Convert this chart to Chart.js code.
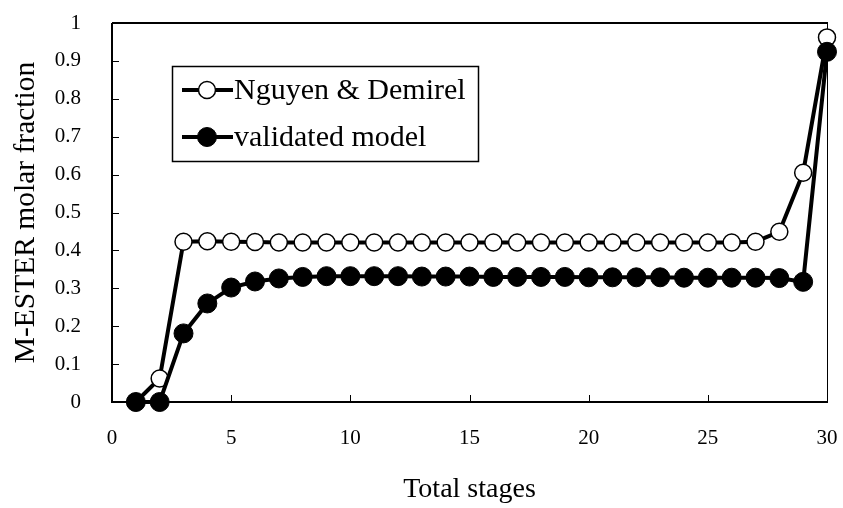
<!DOCTYPE html>
<html>
<head>
<meta charset="utf-8">
<script src="https://cdn.jsdelivr.net/npm/chart.js@4.4.1/dist/chart.umd.min.js"></script>
<style>
  body { margin: 0; background: #fff; }
  #wrap { width: 843px; height: 508px; }
</style>
</head>
<body>
<div id="wrap"><canvas id="canvas1" width="843" height="508"></canvas></div>
<script>
// stage numbers 1..30
var stages = [1, 2, 3, 4, 5, 6, 7, 8, 9, 10, 11, 12, 13, 14, 15,
              16, 17, 18, 19, 20, 21, 22, 23, 24, 25, 26, 27, 28, 29, 30];
var nguyen = [0, 0.062, 0.423, 0.424, 0.423, 0.422, 0.421, 0.421, 0.421, 0.421,
              0.421, 0.421, 0.421, 0.421, 0.421, 0.421, 0.421, 0.421, 0.421, 0.421,
              0.421, 0.421, 0.421, 0.421, 0.421, 0.421, 0.423, 0.449, 0.605, 0.962];
var validated = [0, 0, 0.181, 0.260, 0.302, 0.318, 0.326, 0.330, 0.332, 0.332,
                 0.332, 0.332, 0.331, 0.331, 0.331, 0.330, 0.330, 0.330, 0.330, 0.329,
                 0.329, 0.329, 0.329, 0.328, 0.328, 0.328, 0.328, 0.327, 0.317, 0.924];
var xTicks = [0, 5, 10, 15, 20, 25, 30];
var yTicks = [0, 0.1, 0.2, 0.3, 0.4, 0.5, 0.6, 0.7, 0.8, 0.9, 1];

var serif = "'Liberation Serif', 'Times New Roman', serif";

function toPoints(ys) {
  return stages.map(function(s, i) { return {x: s, y: ys[i]}; });
}

// axis box with inside tick marks
var framePlugin = {
  id: 'frame',
  beforeDatasetsDraw: function(chart) {
    var c = chart.ctx, a = chart.chartArea;
    var xs = chart.scales.x, ys = chart.scales.y;
    c.save();
    c.strokeStyle = '#000';
    c.lineWidth = 1;
    c.beginPath();
    c.moveTo(a.right + 0.5, a.top);
    c.lineTo(a.right + 0.5, a.bottom);
    c.stroke();
    c.lineWidth = 2;
    c.beginPath();
    c.moveTo(a.left, a.top);
    c.lineTo(a.right + 1, a.top);
    c.moveTo(a.left, a.top);
    c.lineTo(a.left, a.bottom);
    c.lineTo(a.right + 1, a.bottom);
    c.stroke();
    c.lineWidth = 1;
    c.beginPath();
    yTicks.forEach(function(v) {
      var py = Math.round(ys.getPixelForValue(v)) + 0.5;
      c.moveTo(a.left, py);
      c.lineTo(a.left + 7, py);
    });
    xTicks.forEach(function(v) {
      var px = Math.round(xs.getPixelForValue(v)) + 0.5;
      c.moveTo(px, a.bottom);
      c.lineTo(px, a.bottom - 7);
    });
    c.stroke();
    c.restore();
  }
};

// boxed legend inside the plot
var legendPlugin = {
  id: 'boxLegend',
  afterDraw: function(chart) {
    var c = chart.ctx;
    var rows = [90, 137];
    c.save();
    c.strokeStyle = '#000';
    c.lineWidth = 1.5;
    c.strokeRect(172.5, 66.5, 306, 95);
    chart.data.datasets.forEach(function(ds, i) {
      var y = rows[i];
      c.lineWidth = 4;
      c.beginPath();
      c.moveTo(182, y);
      c.lineTo(233, y);
      c.stroke();
      c.beginPath();
      c.arc(207, y, ds.pointRadius, 0, Math.PI * 2);
      c.fillStyle = ds.pointBackgroundColor;
      c.fill();
      c.lineWidth = ds.pointBorderWidth;
      c.stroke();
      c.fillStyle = '#000';
      c.font = '30px ' + serif;
      c.textAlign = 'left';
      c.textBaseline = 'middle';
      c.fillText(ds.label, 234, y + 1);
    });
    c.restore();
  }
};

var ctx = document.getElementById("canvas1").getContext("2d");
window.myLine = new Chart(ctx, {
  type: 'line',
  data: {
    datasets: [{
      label: 'Nguyen & Demirel',
      data: toPoints(nguyen),
      borderColor: '#000',
      borderWidth: 4,
      pointRadius: 8.5,
      pointBackgroundColor: '#fff',
      pointBorderColor: '#000',
      pointBorderWidth: 1.5,
      order: 1,
      clip: false
    }, {
      label: 'validated model',
      data: toPoints(validated),
      borderColor: '#000',
      borderWidth: 4,
      pointRadius: 9.5,
      pointBackgroundColor: '#000',
      pointBorderColor: '#000',
      pointBorderWidth: 1,
      order: 0,
      clip: false
    }]
  },
  options: {
    responsive: false,
    animation: false,
    events: [],
    layout: { autoPadding: false, padding: { top: 23, right: 16, left: 0, bottom: 0 } },
    plugins: { legend: { display: false }, tooltip: { enabled: false } },
    scales: {
      x: {
        type: 'linear',
        min: 0, max: 30,
        afterFit: function(s) { s.height = 106; s.paddingLeft = 0; s.paddingRight = 0; },
        afterBuildTicks: function(s) { s.ticks = xTicks.map(function(v) { return {value: v}; }); },
        grid: { display: false, drawTicks: false },
        border: { display: false },
        ticks: { color: '#000', padding: 24, font: { family: serif, size: 21 } },
        title: { display: true, text: 'Total stages', color: '#000', padding: { top: 0, bottom: 2 },
                 font: { family: serif, size: 28 } }
      },
      y: {
        min: 0, max: 1,
        afterFit: function(s) { s.width = 112; s.paddingTop = 0; s.paddingBottom = 0; },
        afterBuildTicks: function(s) { s.ticks = yTicks.map(function(v) { return {value: v}; }); },
        grid: { display: false, drawTicks: false },
        border: { display: false },
        ticks: { color: '#000', padding: 31, font: { family: serif, size: 21 },
                 callback: function(v) { return String(Math.round(v * 10) / 10); } },
        title: { display: true, text: 'M-ESTER molar fraction', color: '#000', padding: { top: 9, bottom: 0 },
                 font: { family: serif, size: 29.5 } }
      }
    }
  },
  plugins: [framePlugin, legendPlugin]
});
</script>
</body>
</html>
